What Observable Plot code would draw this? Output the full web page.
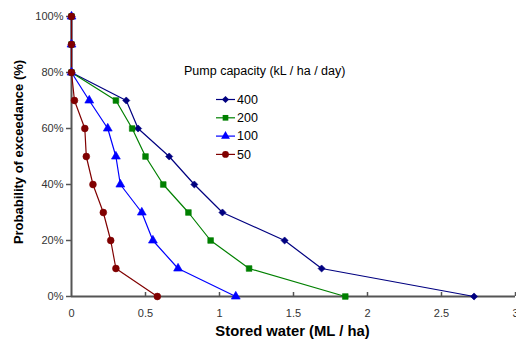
<!DOCTYPE html>
<html>
<head>
<meta charset="utf-8">
<script src="https://cdn.jsdelivr.net/npm/d3@7"></script>
<script src="https://cdn.jsdelivr.net/npm/@observablehq/plot@0.6"></script>
<style>
  body { margin: 0; background: #fff; }
  #wrap { position: relative; width: 516px; height: 343px; font-family: "Liberation Sans", Arial, sans-serif; }
</style>
</head>
<body>
<div id="wrap"></div>
<script>
// Data
const probabilities = [100, 90, 80, 70, 60, 50, 40, 30, 20, 10, 0];
const pump400 = [0, 0, 0, 0.37, 0.45, 0.66, 0.83, 1.02, 1.44, 1.69, 2.72];
const pump200 = [0, 0, 0, 0.30, 0.41, 0.50, 0.62, 0.79, 0.94, 1.20, 1.85];
const pump100 = [0, 0, 0, 0.12, 0.245, 0.30, 0.33, 0.475, 0.55, 0.72, 1.11];
const pump50  = [0, 0, 0, 0.02, 0.09, 0.10, 0.145, 0.215, 0.265, 0.30, 0.58];
const seriesNames = ["400", "200", "100", "50"];
const seriesValues = [pump400, pump200, pump100, pump50];
const seriesColors = ["#000080", "#008000", "#0000ff", "#800000"];
const seriesSymbols = ["diamond2", "square", "triangle", "circle"];
const xTicks = [0, 0.5, 1, 1.5, 2, 2.5, 3];
const yTicks = [0, 20, 40, 60, 80, 100];
const legendTitle = "Pump capacity (kL / ha / day)";

const rows = [];
seriesNames.forEach((name, i) => {
  seriesValues[i].forEach((v, j) => rows.push({series: name, x: v, y: probabilities[j]}));
});

const symbolRadius = {diamond2: 3.2, square: 3.2, triangle: 3.3, circle: 3.4};
const axisColor = "#555";
const marks = [
  Plot.ruleY([0], {stroke: axisColor, strokeWidth: 2}),
  Plot.ruleX(xTicks.slice(1), {x: d => d, y1: 0, y2: 0, insetBottom: 4, stroke: axisColor, strokeWidth: 1.5}),
  Plot.axisX({ticks: xTicks, tickSize: 0, tickPadding: 13, tickFormat: d => String(d), fontSize: 11, color: "#333", label: null}),
  Plot.axisY({ticks: yTicks, tickSize: 5, tickPadding: 3, tickFormat: d => d + "%", fontSize: 11, color: "#333", label: null, stroke: axisColor, strokeWidth: 1.5}),
  Plot.ruleX([0], {stroke: axisColor, strokeWidth: 2})
];
seriesNames.forEach((name, i) => {
  const data = rows.filter(r => r.series === name);
  marks.push(Plot.line(data, {x: "x", y: "y", stroke: seriesColors[i], strokeWidth: 1.2}));
});
seriesNames.forEach((name, i) => {
  const data = rows.filter(r => r.series === name);
  marks.push(Plot.dot(data, {x: "x", y: "y", symbol: () => seriesSymbols[i], fill: seriesColors[i], stroke: seriesColors[i], strokeWidth: 0.6, r: symbolRadius[seriesSymbols[i]]}));
});

const chart = Plot.plot({
  width: 516,
  height: 343,
  marginLeft: 71,
  marginRight: 1,
  marginTop: 16,
  marginBottom: 47,
  x: {domain: [0, 3], label: null, axis: null},
  y: {domain: [0, 100], label: null, axis: null},
  symbol: {type: "identity"},
  style: {fontFamily: "'Liberation Sans', Arial, sans-serif", background: "#fff", overflow: "visible"},
  marks
});
const wrap = document.getElementById("wrap");
wrap.appendChild(chart);

// axis titles and legend
const svg = d3.select(chart);
svg.append("text").attr("x", 292.5).attr("y", 336).attr("text-anchor", "middle")
  .attr("font-size", 14.8).attr("font-weight", "bold").attr("fill", "#000")
  .text("Stored water (ML / ha)");
svg.append("text").attr("transform", "translate(23,152) rotate(-90)").attr("text-anchor", "middle")
  .attr("font-size", 13).attr("font-weight", "bold").attr("fill", "#000")
  .text("Probability of exceedance (%)");

const lg = svg.append("g").attr("font-size", 12.5).attr("fill", "#000").attr("text-anchor", "start");
lg.append("text").attr("x", 184).attr("y", 75).text(legendTitle);
const symGen = {diamond2: d3.symbolDiamond2, square: d3.symbolSquare, triangle: d3.symbolTriangle, circle: d3.symbolCircle};
seriesNames.forEach((name, i) => {
  const y = 99.5 + i * 18.3;
  lg.append("line").attr("x1", 216).attr("x2", 235).attr("y1", y).attr("y2", y)
    .attr("stroke", seriesColors[i]).attr("stroke-width", 1.2);
  const r = symbolRadius[seriesSymbols[i]];
  lg.append("path").attr("transform", `translate(225.5,${y})`)
    .attr("d", d3.symbol(symGen[seriesSymbols[i]], r * r * Math.PI)())
    .attr("fill", seriesColors[i]);
  lg.append("text").attr("x", 237).attr("y", y + 4.3).text(name);
});
</script>
</body>
</html>
